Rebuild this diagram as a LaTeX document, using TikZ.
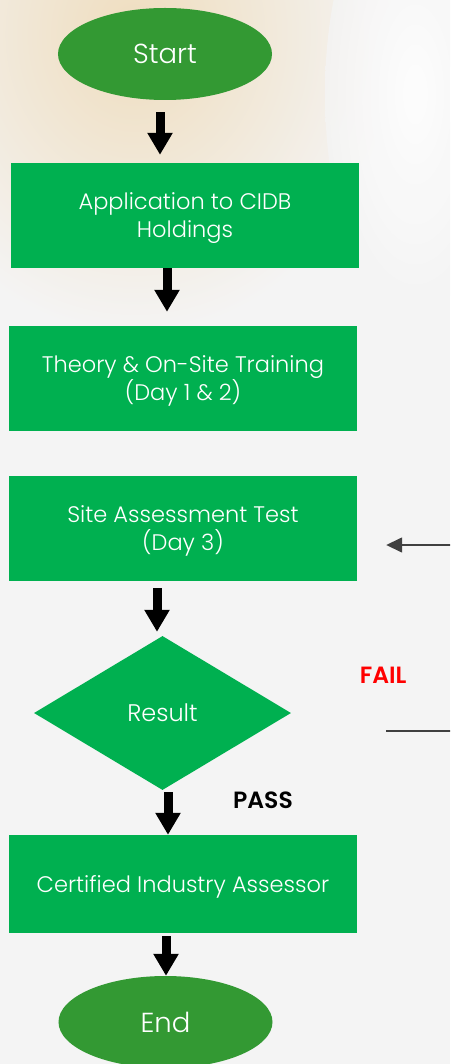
\documentclass[tikz,border=0pt]{standalone}
\usepackage{fontspec}
\setmainfont{Poppins}[UprightFont={* Light}, BoldFont={* SemiBold}]
\usetikzlibrary{shapes.geometric, arrows.meta}
\definecolor{boxgreen}{HTML}{00B050}
\definecolor{ovalgreen}{HTML}{339933}
\definecolor{pagegray}{HTML}{F4F4F4}
\definecolor{photobeige}{HTML}{EFDDBE}
\tikzstyle{startstop} = [ellipse, minimum width=214pt, minimum height=92pt, text depth=0pt, text centered, fill=ovalgreen, text=white, font=\fontsize{27.5}{30}\selectfont]
\tikzstyle{process} = [rectangle, minimum width=348pt, minimum height=105pt, text depth=0pt, align=center, fill=boxgreen, text=white, font=\fontsize{22.5}{28}\selectfont]
\tikzstyle{decision} = [diamond, minimum width=257pt, minimum height=154pt, inner sep=0pt, text depth=0pt, text centered, fill=boxgreen, text=white, font=\fontsize{24}{28}\selectfont]
\tikzstyle{verdict} = [font=\bfseries\fontsize{23.5}{28}\selectfont]
\tikzstyle{arrow} = [line width=9pt, -{Triangle[length=22pt, width=24pt]}]
\tikzstyle{retry} = [line width=1.5pt, draw=black!75, -{Triangle[length=16pt, width=15pt]}]

\begin{document}
\begin{tikzpicture}[x=1pt, y=1pt, node distance=160pt]
    % Page
    \useasboundingbox (-165,54) rectangle (285,-1010);
    \clip (-165,54) rectangle (285,-1010);
    \fill[pagegray] (-165,54) rectangle (285,-1010);
    \shade[inner color=photobeige, outer color=pagegray] (-30,20) ellipse (260pt and 300pt);
    \shade[inner color=white, outer color=pagegray, opacity=0.8] (250,-40) ellipse (90pt and 220pt);

    % Nodes
    \node (start) [startstop] {Start};
    \node (app) [process, below of=start, xshift=20pt, yshift=-1.5pt] {Application to CIDB\\Holdings};
    \node (theory) [process, below of=app, xshift=-2pt, yshift=-3pt] {Theory \& On-Site Training\\(Day 1 \& 2)};
    \node (site) [process, below of=theory, yshift=10pt] {Site Assessment Test\\(Day 3)};
    \node (result) [decision, below of=site, xshift=-20.5pt, yshift=-24.5pt] {Result};
    \node (cert) [process, below of=result, xshift=20.5pt, yshift=-11pt, minimum height=98pt] {Certified Industry Assessor};
    \node (stop) [startstop, below of=cert, xshift=-17.5pt, yshift=22pt] {End};

    % Labels
    \node (fail) [verdict, text=red] at ([xshift=92pt, yshift=38pt]result.east) {FAIL};
    \node (pass) [verdict] at ([xshift=100.5pt, yshift=-10pt]result.south) {PASS};

    % Arrows
    \draw [arrow, shorten <=12pt, shorten >=8pt] ([xshift=-5pt]start.south) -- ([xshift=-5pt]start.south |- app.north);
    \draw [arrow, shorten >=14pt] ([xshift=-18pt]app.south) -- ([xshift=-18pt]app.south |- theory.north);
    \draw [arrow, shorten <=7pt, shorten >=4pt] ([xshift=-26pt]site.south) -- ([xshift=-26pt]site.south |- result.north);
    \draw [arrow, shorten <=2pt] ([xshift=5.5pt]result.south) -- ([xshift=5.5pt]result.south |- cert.north);
    \draw [arrow, shorten <=3pt] ([xshift=-17pt]cert.south) -- ([xshift=-17pt]cert.south |- stop.north);

    % Fail loop back to the test
    \coordinate (failout) at ([xshift=95pt, yshift=-18pt]result.east);
    \coordinate (failin) at ([xshift=29pt, yshift=-16.5pt]site.east);
    \draw [retry] (failout) -- ++(100,0) |- (failin);
\end{tikzpicture}
\end{document}
